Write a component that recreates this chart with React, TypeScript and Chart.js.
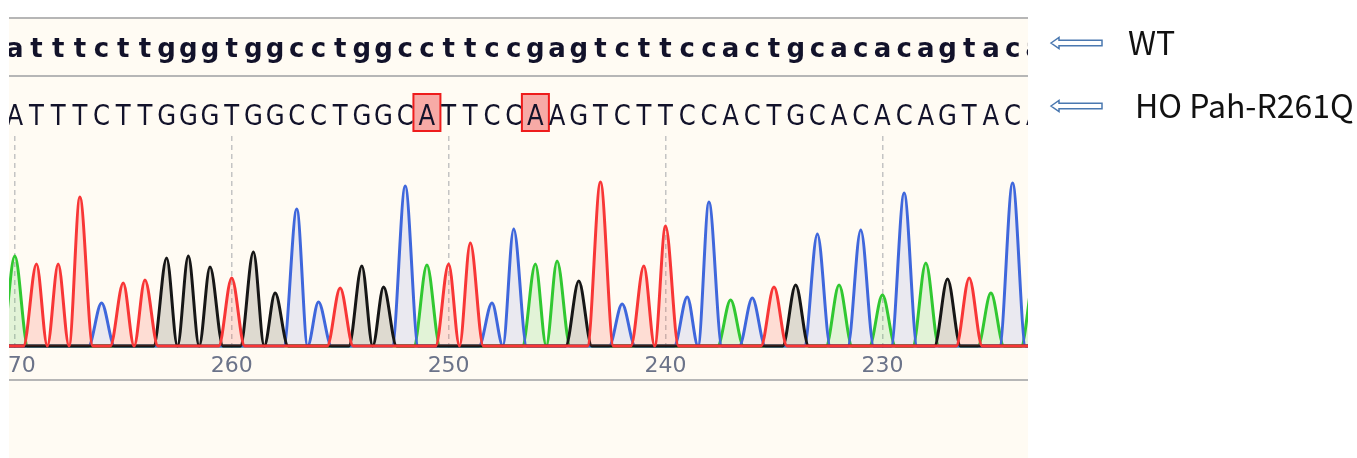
import React, { useEffect, useRef } from 'react';
import { Chart, registerables } from 'chart.js';

Chart.register(...registerables);

// ---- data ----
const wtSequence = 'atttcttgggtggcctggccttccgagtcttccactgcacacagtaca'.split('');
const calledBases = 'ATTTCTTGGGTGGCCTGGCATTCCAAGTCTTCCACTGCACACAGTACA'.split('');
const peakHeights = [
  90, 82, 82, 149, 43, 63, 66, 88, 90, 79,
  68, 94, 53, 137, 44, 58, 80, 59, 160, 81,
  82, 103, 43, 117, 82, 85, 65, 164, 42, 80,
  120, 49, 144, 46, 48, 59, 61, 112, 61, 116,
  51, 153, 83, 67, 68, 53, 163, 70,
];
const mutationIndices = [19, 24];
const tickValues = [0, 10, 20, 30, 40];
const tickLabels = ['270', '260', '250', '240', '230'];
const sampleLabels = ['WT', 'HO Pah-R261Q'];
const channels = ['T', 'G', 'C', 'A'];

// peak foot distance from its centre, in base units
const PEAK_FOOT = 0.6;

const lineColors: Record<string, string> = {
  T: '#f83636',
  G: '#161616',
  C: '#3f67dc',
  A: '#31c831',
};
const fillColors: Record<string, string> = {
  T: 'rgba(250,70,50,0.16)',
  G: 'rgba(20,20,0,0.14)',
  C: 'rgba(60,90,220,0.11)',
  A: 'rgba(50,200,50,0.14)',
};

// ---- layout constants (pixels) ----
const W = 1357;
const H = 458;
const PANEL_L = 9;
const PANEL_R = 1028;
const PANEL_T = 18;
const PANEL_COLOR = '#fffbf3';
const RULE_COLOR = '#b6b6b6';

function channelPoints(c: string) {
  const pts: { x: number; y: number }[] = [{ x: -1, y: 0 }];
  const n = calledBases.length;
  calledBases.forEach((b, i) => {
    if (b !== c) return;
    const prevSame = i > 0 && calledBases[i - 1] === c;
    const nextSame = i < n - 1 && calledBases[i + 1] === c;
    if (!prevSame) pts.push({ x: i - PEAK_FOOT, y: 0 });
    pts.push({ x: i, y: peakHeights[i] });
    pts.push({ x: nextSame ? i + 0.5 : i + PEAK_FOOT, y: 0 });
  });
  pts.push({ x: n + 1, y: 0 });
  return pts;
}

const decorPlugin = {
  id: 'decor',
  beforeDraw(chart: any) {
    const ctx = chart.ctx;
    ctx.save();
    ctx.fillStyle = '#ffffff';
    ctx.fillRect(0, 0, W, H);
    ctx.fillStyle = PANEL_COLOR;
    ctx.fillRect(PANEL_L, PANEL_T, PANEL_R - PANEL_L, H - PANEL_T);
    ctx.fillStyle = RULE_COLOR;
    ctx.fillRect(PANEL_L, 17, PANEL_R - PANEL_L, 2);
    ctx.fillRect(PANEL_L, 75, PANEL_R - PANEL_L, 2);
    ctx.fillRect(PANEL_L, 379, PANEL_R - PANEL_L, 2);
    ctx.restore();
  },
  afterDraw(chart: any) {
    const ctx = chart.ctx;
    const xs = chart.scales.x;
    // mask tick text outside panel
    ctx.save();
    ctx.fillStyle = '#ffffff';
    ctx.fillRect(0, 350, PANEL_L, 30);
    ctx.restore();

    ctx.save();
    ctx.beginPath();
    ctx.rect(PANEL_L, 0, PANEL_R - PANEL_L, H);
    ctx.clip();

    // highlight boxes
    mutationIndices.forEach((i) => {
      const x = xs.getPixelForValue(i);
      ctx.fillStyle = 'rgba(240,90,90,0.5)';
      ctx.fillRect(x - 13.5, 94, 27, 37);
      ctx.strokeStyle = '#ee1c1c';
      ctx.lineWidth = 2;
      ctx.strokeRect(x - 13.5, 94, 27, 37);
    });

    ctx.textAlign = 'center';
    ctx.textBaseline = 'alphabetic';
    ctx.fillStyle = '#12122a';
    ctx.font = "bold 26px 'DejaVu Sans'";
    wtSequence.forEach((l, i) => {
      const x = xs.getPixelForValue(i);
      ctx.fillText(l, x, 57);
    });
    ctx.font = "29px 'DejaVu Sans'";
    calledBases.forEach((l, i) => {
      const x = xs.getPixelForValue(i);
      ctx.save();
      ctx.translate(x, 125);
      ctx.scale(0.84, 1);
      ctx.fillText(l, 0, 0);
      ctx.restore();
    });
    ctx.restore();

    // arrows and sample labels
    const rows = [43, 106];
    ctx.save();
    rows.forEach((cy) => {
      ctx.beginPath();
      ctx.moveTo(1051, cy);
      ctx.lineTo(1059, cy - 5.5);
      ctx.lineTo(1059, cy - 2.8);
      ctx.lineTo(1102, cy - 2.8);
      ctx.lineTo(1102, cy + 2.8);
      ctx.lineTo(1059, cy + 2.8);
      ctx.lineTo(1059, cy + 5.5);
      ctx.closePath();
      ctx.fillStyle = '#ffffff';
      ctx.fill();
      ctx.strokeStyle = '#4a78b0';
      ctx.lineWidth = 1.5;
      ctx.stroke();
    });
    ctx.fillStyle = '#111111';
    ctx.textAlign = 'left';
    ctx.textBaseline = 'alphabetic';
    ctx.font = "32px 'Noto Sans CJK SC'";
    ctx.fillText(sampleLabels[0], 1128, 55);
    ctx.fillText(sampleLabels[1], 1135, 118);
    ctx.restore();
  },
};

export default function App() {
  const ref = useRef<HTMLCanvasElement | null>(null);

  useEffect(() => {
    if (!ref.current) return;
    const datasets = channels.map((c) => ({
      label: c,
      data: channelPoints(c),
      borderColor: lineColors[c],
      backgroundColor: fillColors[c],
      borderWidth: 3,
      pointRadius: 0,
      cubicInterpolationMode: 'monotone',
      fill: 'origin',
    }));
    const chart = new Chart(ref.current, {
      type: 'line',
      data: { datasets },
      options: {
        animation: false,
        responsive: false,
        events: [],
        layout: { padding: { left: PANEL_L, right: W - PANEL_R, top: 136, bottom: 79 } },
        plugins: { legend: { display: false }, tooltip: { enabled: false }, title: { display: false } },
        scales: {
          x: {
            type: 'linear',
            min: -0.267,
            max: 46.71,
            afterBuildTicks: (axis: any) => {
              axis.ticks = tickValues.map((v) => ({ value: v }));
            },
            afterFit: (axis: any) => {
              axis.height = 30;
              axis.paddingLeft = 0;
              axis.paddingRight = 0;
            },
            ticks: {
              autoSkip: false,
              maxRotation: 0,
              padding: 4,
              color: '#6b7389',
              font: { family: 'DejaVu Sans', size: 22 },
              callback: (v: any) => tickLabels[tickValues.indexOf(Number(v))] ?? '',
            },
            grid: { color: '#c4c4c4', lineWidth: 1.5, drawTicks: false },
            border: { display: false, dash: [5, 4] },
          },
          y: {
            display: false,
            min: -3,
            max: 210,
          },
        },
      },
      plugins: [decorPlugin],
    });
    return () => chart.destroy();
  }, []);

  return (
    <div style={{ position: 'absolute', left: 0, top: 0, width: W, height: H }}>
      <canvas ref={ref} width={W} height={H} style={{ display: 'block' }} />
    </div>
  );
}
